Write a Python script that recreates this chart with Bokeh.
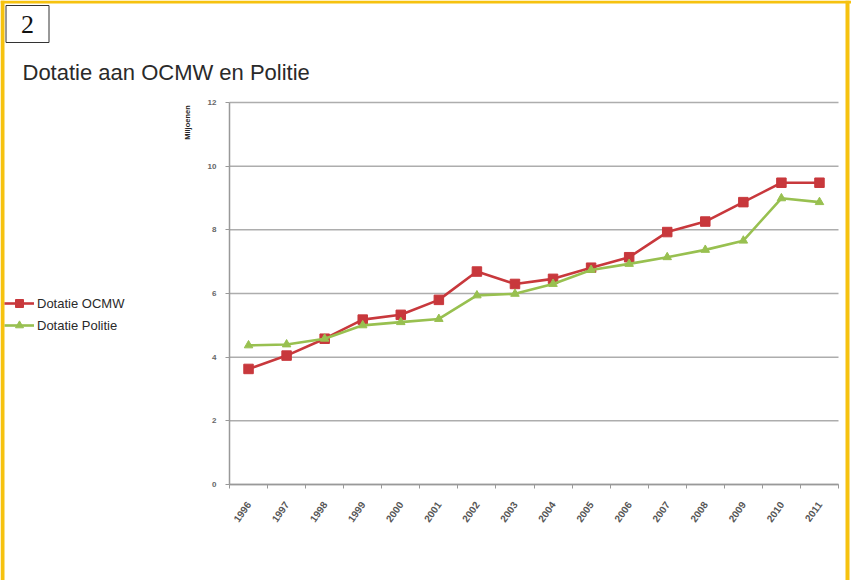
import math
from bokeh.plotting import figure
from bokeh.models import (ColumnDataSource, FixedTicker, Legend, LegendItem, Label, Range1d, Span)
from bokeh.embed import file_html
from bokeh.resources import INLINE

years = ["1996", "1997", "1998", "1999", "2000", "2001", "2002", "2003",
         "2004", "2005", "2006", "2007", "2008", "2009", "2010", "2011"]
ocmw = [3.63, 4.05, 4.58, 5.18, 5.33, 5.80, 6.69, 6.30,
        6.46, 6.81, 7.14, 7.93, 8.26, 8.87, 9.48, 9.48]
politie = [4.37, 4.40, 4.58, 5.00, 5.10, 5.20, 5.94, 5.99,
           6.30, 6.74, 6.93, 7.14, 7.37, 7.66, 8.99, 8.87]
y_ticks = [0, 2, 4, 6, 8, 10, 12]

RED = "#c8383c"
GREEN = "#98c050"
GOLD = "#f6c20f"
FONT = "Liberation Sans"

W, H = 851, 580
PLOT_L, PLOT_R, PLOT_T, PLOT_B = 229, 838, 102, 484   # chart area in pixels
n = len(years)
xpx = (PLOT_R - PLOT_L) / n
ypx = (PLOT_B - PLOT_T) / 12.0


def dx(px):
    return -0.5 + (px - PLOT_L) / xpx


def dy(py):
    return (PLOT_B - py) / ypx


idx = list(range(n))
src = ColumnDataSource(dict(x=idx, ocmw=ocmw, politie=politie))

p = figure(width=W, height=H, output_backend="svg", toolbar_location=None,
           x_range=Range1d(dx(0), dx(W)), y_range=Range1d(dy(H), dy(0)),
           min_border_left=0, min_border_right=0, min_border_top=0, min_border_bottom=0)
p.background_fill_color = "white"
p.border_fill_color = "white"
p.outline_line_color = None

# horizontal gridlines over the chart area only
p.segment(x0=[-0.5] * len(y_ticks), x1=[n - 0.5] * len(y_ticks), y0=y_ticks, y1=y_ticks,
          line_color="#adadad", line_width=1.5)

# lines and markers
r1 = p.line("x", "ocmw", source=src, line_color=RED, line_width=2.6)
m1 = p.scatter("x", "ocmw", source=src, marker="square", size=9.5,
               fill_color=RED, line_color=RED)
r2 = p.line("x", "politie", source=src, line_color=GREEN, line_width=2.6)
m2 = p.scatter("x", "politie", source=src, marker="triangle", size=8.5,
               fill_color=GREEN, line_color=GREEN)

p.xgrid.grid_line_color = None
p.ygrid.grid_line_color = None

# x axis, fixed at y = 0
p.xaxis.fixed_location = 0
p.xaxis.bounds = (-0.5, n - 0.5)
p.xaxis.ticker = FixedTicker(ticks=idx, minor_ticks=[i - 0.5 for i in range(n + 1)])
p.xaxis.major_label_overrides = {i: y for i, y in enumerate(years)}
p.xaxis.major_label_orientation = 0.95
p.xaxis.major_tick_out = 0
p.xaxis.major_tick_in = 0
p.xaxis.minor_tick_out = 4
p.xaxis.minor_tick_in = 0
p.xaxis.minor_tick_line_color = "#999999"
p.xaxis.axis_line_color = "#999999"
p.xaxis.axis_line_width = 1.5
p.xaxis.major_label_text_font = FONT
p.xaxis.major_label_text_font_size = "10px"
p.xaxis.major_label_text_font_style = "bold"
p.xaxis.major_label_text_color = "#555555"
p.xaxis.major_label_standoff = 14

# y axis, fixed at the chart's left edge
p.yaxis.fixed_location = -0.5
p.yaxis.bounds = (0, 12)
p.yaxis.ticker = FixedTicker(ticks=y_ticks)
p.yaxis.minor_tick_line_color = None
p.yaxis.major_tick_out = 4
p.yaxis.major_tick_in = 0
p.yaxis.major_tick_line_color = "#999999"
p.yaxis.axis_line_color = "#999999"
p.yaxis.axis_line_width = 1.5
p.yaxis.major_label_text_font = FONT
p.yaxis.major_label_text_font_size = "8px"
p.yaxis.major_label_text_font_style = "bold"
p.yaxis.major_label_text_color = "#666666"
p.yaxis.major_label_standoff = 9

# legend
legend = Legend(items=[LegendItem(label="Dotatie OCMW", renderers=[r1, m1]),
                       LegendItem(label="Dotatie Politie", renderers=[r2, m2])],
                location=(4, (H - PLOT_B) + 149), orientation="vertical")
legend.padding = 0
legend.margin = 0
legend.spacing = 2
legend.label_height = 20
legend.glyph_height = 20
legend.glyph_width = 30
legend.label_standoff = 3
legend.border_line_color = None
legend.background_fill_alpha = 0
legend.label_text_font = FONT
legend.label_text_font_size = "13px"
legend.label_text_color = "#2a2a2a"
p.add_layout(legend, "center")

# y-axis unit label
p.add_layout(Label(x=dx(187), y=dy(122), text="Miljoenen", angle=math.pi / 2,
                   text_font=FONT, text_font_size="7.5px", text_font_style="bold",
                   text_color="#222222", text_align="center", text_baseline="middle"))

# chart title
p.add_layout(Label(x=dx(22), y=dy(72), text="Dotatie aan OCMW en Politie",
                   text_font=FONT, text_font_size="22px", text_color="#2a2a2a",
                   text_align="left", text_baseline="middle"))

# numbered box
p.add_layout(Label(x=dx(27), y=dy(23.5), text="2",
                   text_font="Liberation Serif", text_font_size="26px", text_color="#111111",
                   text_align="center", text_baseline="middle",
                   border_line_color="#333333", border_line_width=1,
                   background_fill_color="white", padding=(15, 10)))

# gold page border (left, right, top)
p.add_layout(Span(location=dx(2), dimension="height", line_color=GOLD, line_width=4))
p.add_layout(Span(location=dx(W - 4), dimension="height", line_color=GOLD, line_width=4))
p.add_layout(Span(location=dy(1.5), dimension="width", line_color=GOLD, line_width=3))

open("out.html", "w").write(file_html(p, INLINE))
